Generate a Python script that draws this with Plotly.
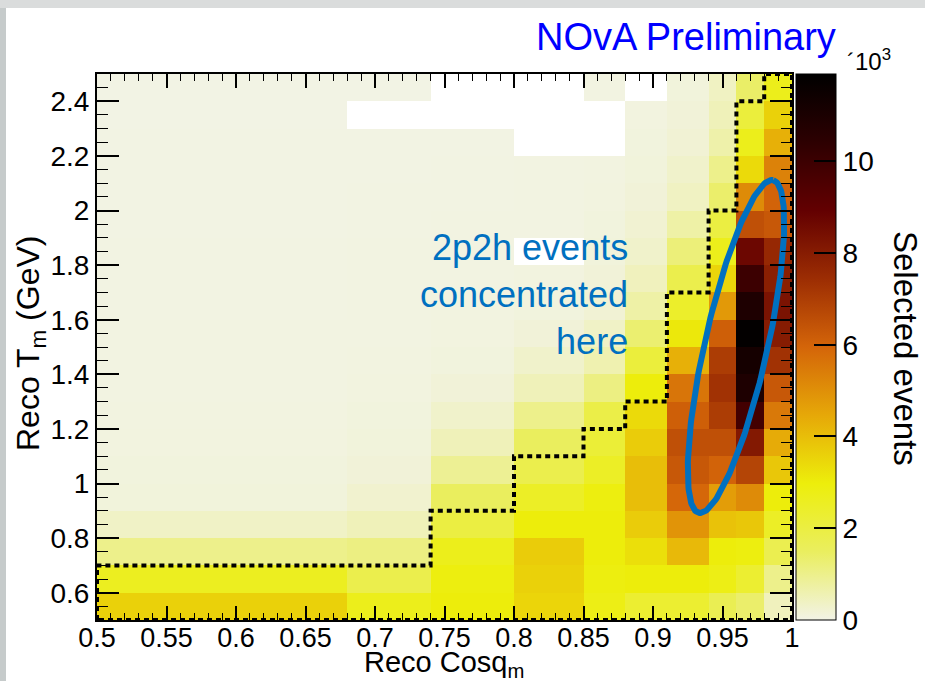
import numpy as np
import plotly.graph_objects as go

# ---------------- data ----------------
# variable-width bins in reco cos(theta_mu)
x_edges = [0.5, 0.68, 0.74, 0.80, 0.85, 0.88, 0.91, 0.94, 0.96, 0.98, 1.0]
# bins in reco T_mu (GeV)
y_edges = [0.5, 0.6, 0.7, 0.8, 0.9, 1.0, 1.1, 1.2, 1.3, 1.4, 1.5,
           1.6, 1.7, 1.8, 1.9, 2.0, 2.1, 2.2, 2.3, 2.4, 2.5]

# selected events (units of 10^3), one row per T bin from bottom (0.5) to top (2.5)
# None = empty bin (not drawn)
r00 = [3.6, 2.7, 3.0, 3.5, 2.8, 2.3, 2.3, 1.7, 1.35, 0.45]
r01 = [2.6, 1.8, 2.9, 3.6, 2.9, 3.0, 3.0, 2.8, 2.3, 1.0]
r02 = [1.0, 1.1, 2.7, 3.7, 3.0, 3.3, 4.1, 3.0, 2.9, 1.75]
r03 = [0.35, 0.5, 2.0, 3.0, 3.0, 3.7, 4.9, 3.9, 3.8, 2.5]
r04 = [0.12, 0.25, 1.5, 2.5, 2.9, 4.0, 5.9, 4.7, 5.1, 3.0]
r05 = [0.10, 0.15, 0.9, 1.8, 2.5, 4.0, 6.3, 6.0, 6.8, 3.8]
r06 = [0.08, 0.12, 0.5, 1.5, 2.2, 3.7, 6.5, 6.5, 8.1, 4.4]
r07 = [0.07, 0.10, 0.3, 1.0, 1.9, 3.4, 6.1, 7.0, 9.8, 5.5]
r08 = [0.06, 0.08, 0.15, 0.5, 1.1, 3.0, 5.6, 7.3, 10.9, 6.3]
r09 = [0.05, 0.07, 0.10, 0.3, 0.6, 2.1, 4.3, 7.0, 11.2, 7.3]
r10 = [0.05, 0.06, 0.08, 0.15, 0.35, 1.3, 3.1, 6.1, 11.8, 8.0]
r11 = [0.04, 0.05, 0.07, 0.10, 0.20, 0.7, 2.4, 4.8, 10.9, 8.3]
r12 = [0.04, 0.05, 0.06, 0.08, 0.15, 0.45, 1.8, 3.5, 10.0, 7.9]
r13 = [0.04, 0.05, 0.05, None, 0.12, 0.30, 1.2, 2.7, 8.7, 7.6]
r14 = [0.03, 0.04, 0.05, 0.06, 0.10, 0.22, 0.7, 2.0, 6.5, 6.3]
r15 = [0.03, 0.04, 0.04, 0.05, 0.08, 0.15, 0.4, 1.35, 5.1, 6.0]
r16 = [0.03, 0.03, 0.04, 0.05, 0.07, 0.12, 0.3, 1.0, 3.4, 5.3]
r17 = [0.03, 0.03, 0.03, None, None, 0.10, 0.2, 0.66, 2.7, 4.3]
r18 = [0.02, None, None, None, None, 0.08, 0.15, 0.5, 2.1, 3.6]
r19 = [0.02, 0.02, None, None, 0.05, None, 0.12, 0.4, 1.4, 2.7]
z_rows = [r00, r01, r02, r03, r04, r05, r06, r07, r08, r09,
          r10, r11, r12, r13, r14, r15, r16, r17, r18, r19]

# upper T edge of the selected region for each cos bin (dotted contour)
sel_top = [0.7, 0.7, 0.9, 1.1, 1.2, 1.3, 1.7, 2.0, 2.4, 2.5]

x_tickvals = [0.5, 0.55, 0.6, 0.65, 0.7, 0.75, 0.8, 0.85, 0.9, 0.95, 1.0]
x_ticktext = ["0.5", "0.55", "0.6", "0.65", "0.7", "0.75", "0.8", "0.85", "0.9", "0.95", "1"]
y_tickvals = [0.6, 0.8, 1.0, 1.2, 1.4, 1.6, 1.8, 2.0, 2.2, 2.4]
y_ticktext = ["0.6", "0.8", "1", "1.2", "1.4", "1.6", "1.8", "2", "2.2", "2.4"]
z_tickvals = [0, 2, 4, 6, 8, 10]
z_max = 11.9

# ---------------- layout geometry ----------------
W, H = 925, 681
L, R, T, B = 97, 133, 74, 61
PW, PH = W - L - R, H - T - B
XR = (0.5, 1.0)
YR = (0.5, 2.5)
sx = PW / (XR[1] - XR[0])
sy = PH / (YR[1] - YR[0])

def px2data(px, py):
    return XR[0] + (px - L) / sx, YR[0] + (T + PH - py) / sy

def px2paper(px, py):
    return (px - L) / PW, (T + PH - py) / PH

FONT = "Liberation Sans, Arial, Helvetica, sans-serif"

# inverted ROOT dark-body-radiator palette
cs_rgb = [(242, 243, 230), (234, 238, 95), (237, 238, 11), (230, 168, 8),
          (212, 101, 9), (156, 45, 3), (99, 0, 1), (45, 0, 1), (0, 0, 0)]
colorscale = [[i / (len(cs_rgb) - 1), "rgb(%d,%d,%d)" % c] for i, c in enumerate(cs_rgb)]

fig = go.Figure()

fig.add_trace(go.Heatmap(
    x=x_edges, y=y_edges, z=z_rows,
    zmin=0, zmax=z_max, colorscale=colorscale, zsmooth=False,
    hoverongaps=False,
    colorbar=dict(
        xref="paper", yref="paper",
        x=(796 - L) / PW, xanchor="left",
        y=0, yanchor="bottom",
        len=1, lenmode="fraction",
        thickness=40, thicknessmode="pixels",
        outlinecolor="black", outlinewidth=1,
        tickmode="array", tickvals=z_tickvals,
        ticktext=[str(v) for v in z_tickvals],
        ticks="inside", ticklen=22, tickwidth=1.5, tickcolor="black",
        tickfont=dict(family=FONT, size=28, color="black"),
        xpad=0, ypad=0,
    ),
))

# dotted selection contour
cx_pts = [x_edges[0], x_edges[0]]
cy_pts = [y_edges[0], sel_top[0]]
for i in range(len(sel_top)):
    cx_pts.append(x_edges[i + 1])
    cy_pts.append(sel_top[i])
    if i + 1 < len(sel_top):
        cx_pts.append(x_edges[i + 1])
        cy_pts.append(sel_top[i + 1])
cx_pts += [x_edges[-1], x_edges[-1], x_edges[0]]
cy_pts += [y_edges[-1], y_edges[0], y_edges[0]]
fig.add_trace(go.Scatter(
    x=cx_pts, y=cy_pts, mode="lines",
    line=dict(color="black", width=4, dash="5px,4px"),
    hoverinfo="skip", showlegend=False, cliponaxis=False,
))

# blue ellipse annotation (drawn in pixel space)
ecx, ecy = 736, 346.5
ea, eb, ephi = 170.5, 31.5, np.deg2rad(12.6)
ux, uy = np.sin(ephi), -np.cos(ephi)
nx, ny = np.cos(ephi), np.sin(ephi)
t = np.linspace(0, 2 * np.pi, 241)
epx = ecx + ea * np.cos(t) * ux + eb * np.sin(t) * nx
epy = ecy + ea * np.cos(t) * uy + eb * np.sin(t) * ny
ex, ey = px2data(epx, epy)
fig.add_trace(go.Scatter(
    x=ex, y=ey, mode="lines", line=dict(color="#0070c0", width=6),
    hoverinfo="skip", showlegend=False,
))

axis_common = dict(
    showline=True, linecolor="black", linewidth=2, mirror="allticks",
    ticks="inside", tickcolor="black", tickwidth=1.5,
    showgrid=False, zeroline=False,
)
fig.update_xaxes(range=list(XR), tickmode="array", tickvals=x_tickvals,
                 ticktext=x_ticktext, ticklen=14, ticklabelstandoff=-7,
                 tickfont=dict(family=FONT, size=27, color="black"),
                 minor=dict(dtick=0.01, tick0=0.5, ticklen=7, ticks="inside",
                            tickcolor="black", tickwidth=1.2, showgrid=False),
                 **axis_common)
fig.update_yaxes(range=list(YR), tickmode="array", tickvals=y_tickvals,
                 ticktext=y_ticktext, ticklen=22,
                 tickfont=dict(family=FONT, size=28, color="black"),
                 minor=dict(dtick=0.05, tick0=0.5, ticklen=11, ticks="inside",
                            tickcolor="black", tickwidth=1.2, showgrid=False),
                 **axis_common)

annotations = []
def add_text(text, px, py, size, color="black", xanchor="center", yanchor="middle",
             angle=0, align="center"):
    ax_, ay_ = px2paper(px, py)
    annotations.append(dict(text=text, x=ax_, y=ay_, xref="paper", yref="paper",
                            xanchor=xanchor, yanchor=yanchor, showarrow=False,
                            textangle=angle, align=align,
                            font=dict(family=FONT, size=size, color=color)))

add_text("Reco Cosq<sub>m</sub>", 444, 664, 29)
add_text("Reco T<sub>m</sub> (GeV)", 30, 344, 32, angle=-90)
add_text("Selected events", 906, 348, 33, angle=90)
add_text("NOvA Preliminary", 838, 37, 38, color="#0000ff", xanchor="right")
add_text("´10<sup>3</sup>", 845, 60, 24, xanchor="left")
add_text("2p2h events<br>concentrated<br>here", 630, 294, 36, color="#0070c0",
         xanchor="right", align="right")

shapes = []
lx0, ly0 = px2paper(0, H)
lx1, ly1 = px2paper(6, 0)
shapes.append(dict(type="rect", xref="paper", yref="paper", x0=lx0, x1=lx1,
                   y0=ly0, y1=ly1, fillcolor="#c6cbcb", line_width=0, layer="below"))
tx0, ty0 = px2paper(0, 8)
tx1, ty1 = px2paper(W, 0)
shapes.append(dict(type="rect", xref="paper", yref="paper", x0=tx0, x1=tx1,
                   y0=ty0, y1=ty1, fillcolor="#dadcdc", line_width=0, layer="below"))

fig.update_layout(
    width=W, height=H,
    margin=dict(l=L, r=R, t=T, b=B, autoexpand=False),
    paper_bgcolor="white", plot_bgcolor="white",
    showlegend=False,
    annotations=annotations, shapes=shapes,
    font=dict(family=FONT, color="black"),
)

fig.write_html("out.html", config={"displayModeBar": False},
               post_script="document.body.style.margin='0';"
                           "document.documentElement.style.overflow='hidden';")
